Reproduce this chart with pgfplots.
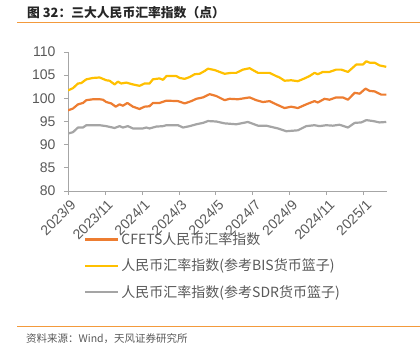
\documentclass[border=0pt]{standalone}
\usepackage{pgfplots}
\pgfplotsset{compat=1.18}
\usepackage{fontspec}
\setmainfont{Liberation Sans}
\newfontfamily\cjk{Noto Sans CJK SC}
\definecolor{cfets}{HTML}{ED7D31}
\definecolor{bis}{HTML}{FFC000}
\definecolor{sdr}{HTML}{A5A5A5}
\definecolor{axgray}{HTML}{A6A6A6}
\definecolor{txtgray}{HTML}{595959}
\definecolor{rule}{HTML}{F39A3C}
\begin{document}
\begin{tikzpicture}
\useasboundingbox (0pt,0pt) rectangle (420pt,-353pt);
\node[anchor=west,inner sep=0pt,text=black!85] at (27pt,-13pt) {\cjk\bfseries\fontsize{12.8}{14}\selectfont 图 32：三大人民币汇率指数（点）};
\draw[rule,line width=1pt] (17pt,-23pt) -- (420pt,-23pt);
\draw[rule,line width=0.9pt] (17pt,-326pt) -- (420pt,-326pt);
\node[anchor=west,inner sep=0pt,text=txtgray] at (26pt,-339pt) {\cjk\fontsize{10.5}{12}\selectfont 资料来源：Wind，天风证券研究所};
\begin{axis}[
  at={(68pt,-191pt)}, anchor=south west,
  scale only axis, width=319pt, height=139pt,
  xmin=0, xmax=17.25, ymin=80, ymax=110,
  axis lines*=left,
  axis line style={axgray, line width=0.9pt},
  tick style={axgray, line width=0.9pt},
  tick align=outside, major tick length=4pt,
  xtick={0,2,...,16},
  xticklabels={2023/9,2023/11,2024/1,2024/3,2024/5,2024/7,2024/9,2024/11,2025/1},
  ytick={80,85,...,110},
  /pgf/number format/assume math mode=true,
  ticklabel style={font=\fontsize{14}{16}\selectfont, text=txtgray},
  xticklabel style={rotate=45, anchor=north east, xshift=2pt, yshift=0pt},
  yticklabel style={xshift=-5pt},
  legend cell align=left,
  legend style={at={(0.040,-0.27)}, anchor=north west, draw=none, fill=none,
    font=\cjk\fontsize{14}{16}\selectfont, text=txtgray, row sep=9pt},
  legend image code/.code={\draw[#1, line width=2.5pt] (0pt,0pt) -- (33pt,0pt);},
  every axis plot/.append style={line width=2.2pt, line join=round},
]
\addplot[cfets] coordinates {
(0.00,97.4)(0.27,97.8)(0.54,98.7)(0.81,99.0)(0.99,99.6)(1.35,99.8)(1.71,99.8)(1.89,99.7)
(2.07,99.2)(2.34,98.9)(2.58,98.2)(2.79,98.7)(2.97,98.4)(3.21,99.0)(3.51,98.2)(3.87,97.7)
(4.14,98.2)(4.41,98.3)(4.59,99.0)(4.95,99.0)(5.32,99.5)(5.95,99.4)(6.31,98.9)(6.67,99.4)
(6.94,99.9)(7.30,100.2)(7.66,100.9)(8.02,100.5)(8.47,99.6)(8.74,99.9)(9.19,99.8)(9.82,100.2)
(10.18,99.6)(10.54,99.2)(10.90,99.4)(11.26,98.7)(11.71,97.9)(12.07,98.2)(12.43,97.9)(12.88,98.7)
(13.33,99.4)(13.51,99.1)(13.87,99.9)(14.14,99.7)(14.50,100.2)(14.86,100.2)(15.14,99.7)(15.50,101.2)
(15.77,101.0)(16.09,102.1)(16.31,101.6)(16.58,101.5)(16.94,100.8)(17.21,100.8)
};
\addlegendentry{CFETS人民币汇率指数}
\addplot[bis] coordinates {
(0.00,101.7)(0.27,102.2)(0.54,103.2)(0.72,103.3)(0.99,104.1)(1.35,104.4)(1.71,104.5)(2.07,103.9)
(2.25,103.8)(2.52,103.0)(2.70,103.6)(2.88,103.2)(3.15,103.4)(3.51,103.0)(3.87,102.7)(4.14,103.2)
(4.41,103.2)(4.59,104.1)(4.95,104.3)(5.14,104.0)(5.32,104.8)(5.86,104.8)(6.04,104.4)(6.31,104.2)
(6.58,104.6)(6.85,105.2)(7.12,105.3)(7.39,105.9)(7.57,106.4)(7.93,106.1)(8.47,105.3)(8.83,105.5)
(9.10,105.5)(9.46,106.2)(9.82,106.5)(10.27,105.5)(10.90,105.5)(11.26,104.8)(11.44,104.5)(11.71,103.8)
(12.07,103.9)(12.43,103.7)(12.79,104.3)(13.06,104.8)(13.33,105.5)(13.51,105.2)(13.78,105.7)(14.14,105.7)
(14.50,106.2)(14.77,106.2)(15.14,105.7)(15.59,107.3)(15.95,107.3)(16.13,108.0)(16.31,107.7)(16.58,107.7)
(16.85,107.1)(17.21,106.8)
};
\addlegendentry{人民币汇率指数(参考BIS货币篮子)}
\addplot[sdr] coordinates {
(0.00,92.4)(0.27,92.7)(0.54,93.7)(0.81,93.7)(0.99,94.2)(1.71,94.2)(2.07,94.0)(2.52,93.6)
(2.79,94.0)(2.97,93.7)(3.24,94.0)(3.51,93.5)(4.05,93.5)(4.23,93.7)(4.41,93.5)(4.77,93.9)
(5.14,94.0)(5.32,94.2)(5.95,94.2)(6.22,93.7)(6.58,94.0)(6.94,94.4)(7.30,94.7)(7.57,95.1)
(8.02,95.0)(8.47,94.6)(9.10,94.4)(9.73,94.9)(10.27,94.1)(10.72,94.1)(11.35,93.5)(11.80,92.9)
(12.43,93.1)(12.88,94.0)(13.33,94.2)(13.60,94.0)(13.96,94.2)(14.32,94.1)(14.68,94.3)(15.14,93.7)
(15.50,94.7)(15.86,94.8)(16.13,95.3)(16.49,95.1)(16.85,94.8)(17.21,94.9)
};
\addlegendentry{人民币汇率指数(参考SDR货币篮子)}
\end{axis}
\end{tikzpicture}
\end{document}
